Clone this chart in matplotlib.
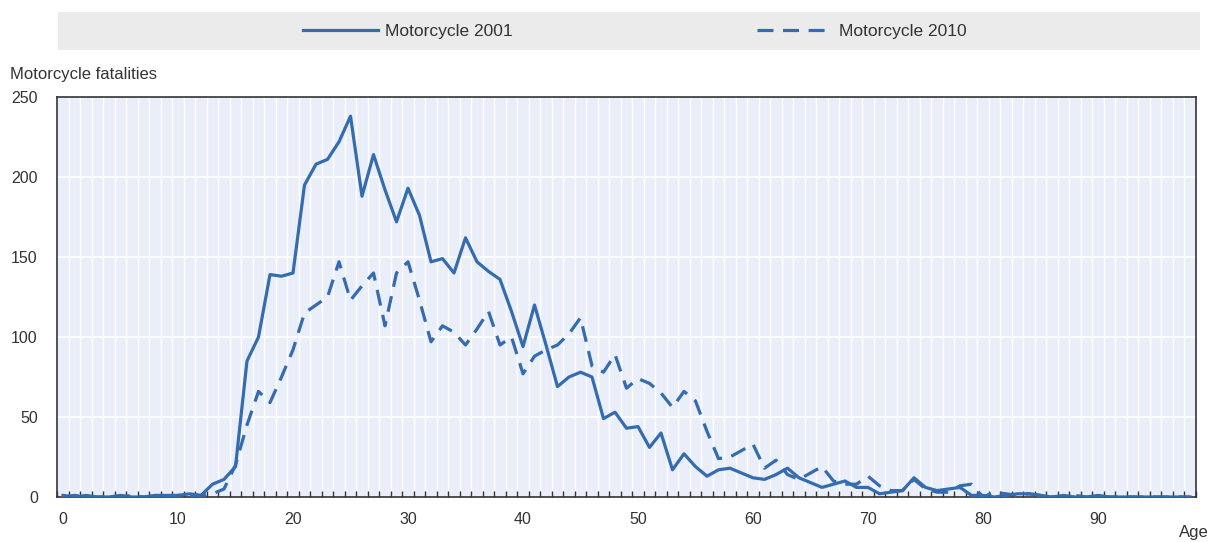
import numpy as np
import matplotlib
matplotlib.use("Agg")
import matplotlib.pyplot as plt
from matplotlib.lines import Line2D
from matplotlib.patches import Rectangle


# ==========================================
# DATA
# ==========================================

ages = list(range(0, 99))

fatalities_2001 = [
    1, 0, 1, 0, 0, 1, 0, 0, 1, 1,          # 0-9
    1, 2, 1, 8, 11, 19, 85, 100, 139, 138,  # 10-19
    140, 195, 208, 211, 222, 238, 188, 214, 192, 172,  # 20-29
    193, 176, 147, 149, 140, 162, 147, 141, 136, 116,  # 30-39
    94, 120, 95, 69, 75, 78, 75, 49, 53, 43,  # 40-49
    44, 31, 40, 17, 27, 19, 13, 17, 18, 15,  # 50-59
    12, 11, 14, 18, 12, 9, 6, 8, 10, 6,      # 60-69
    6, 2, 3, 4, 12, 6, 4, 5, 6, 1,           # 70-79
    1, 0, 1, 2, 2, 1, 0, 1, 0, 0,            # 80-89
    1, 0, 0, 0, 0, 0, 0, 0, 0,               # 90-98
]

fatalities_2010 = [
    0, 1, 0, 0, 0, 0, 1, 0, 0, 0,            # 0-9
    1, 1, 1, 2, 5, 20, 45, 66, 59, 75,       # 10-19
    92, 115, 120, 125, 147, 123, 132, 140, 107, 140,  # 20-29
    147, 123, 97, 107, 103, 95, 105, 116, 95, 100,  # 30-39
    77, 88, 92, 95, 102, 112, 82, 78, 89, 68,  # 40-49
    74, 71, 65, 56, 66, 60, 41, 24, 25, 29,  # 50-59
    33, 18, 23, 14, 11, 15, 19, 10, 8, 8,    # 60-69
    13, 7, 4, 4, 11, 5, 3, 3, 7, 8,          # 70-79
    0, 3, 2, 1, 2, 1, 0, 0, 1, 0,            # 80-89
    0, 0, 0, 0, 0, 0, 0, 0, 0,               # 90-98
]

series_labels = ["Motorcycle 2001", "Motorcycle 2010"]
x_ticks = [0, 10, 20, 30, 40, 50, 60, 70, 80, 90]
y_ticks = [0, 50, 100, 150, 200, 250]


# ==========================================
# STYLE
# ==========================================

plt.rcParams["font.family"] = ["Liberation Sans Narrow", "Liberation Sans", "DejaVu Sans"]

LINE_COLOR = "#356bb0"
BG_COLOR = "#e9eef8"
LEGEND_BG = "#ebebeb"
TEXT_COLOR = "#333333"
DASH = (0, (5, 3))


# ==========================================
# PLOT
# ==========================================

fig = plt.figure(figsize=(12.12, 5.42), dpi=100)
ax = fig.add_axes([57.25 / 1212, 1 - 497 / 542, (1195.75 - 57.25) / 1212, 400 / 542])
ax.set_facecolor(BG_COLOR)

# white separators between age categories + horizontal grid
for b in np.arange(-0.5, 99, 1):
    ax.axvline(b, color="white", lw=1.0, zorder=1)
for yv in y_ticks[1:-1]:
    ax.axhline(yv, color="white", lw=1.2, zorder=1)

ax.plot(ages, fatalities_2001, color=LINE_COLOR, lw=2.3, zorder=3)
ax.plot(ages, fatalities_2010, color=LINE_COLOR, lw=2.3, zorder=3, linestyle=DASH)

ax.set_xlim(-0.5, 98.5)
ax.set_ylim(0, 250)

ax.set_xticks(x_ticks)
ax.set_xticklabels([str(v) for v in x_ticks], fontsize=11.5, color=TEXT_COLOR)
ax.set_xticks(np.arange(-0.5, 99, 1), minor=True)
ax.tick_params(axis="x", which="major", length=0, pad=11)
ax.tick_params(axis="x", which="minor", direction="in", length=4, width=1, color="#333333")

ax.set_yticks(y_ticks)
ax.set_yticklabels([str(v) for v in y_ticks], fontsize=11.5, color=TEXT_COLOR)
ax.tick_params(axis="y", which="major", length=0, pad=14)

for side in ["left", "right", "top", "bottom"]:
    ax.spines[side].set_color("#333333")
    ax.spines[side].set_linewidth(1.2)

fig.text(10 / 1212, 1 - 75 / 542, "Motorcycle fatalities", fontsize=12,
         color=TEXT_COLOR, ha="left", va="center")
fig.text(1209 / 1212, 1 - 533 / 542, "Age", fontsize=12,
         color=TEXT_COLOR, ha="right", va="center")

# legend band
fig.patches.append(Rectangle((58 / 1212, 1 - 50 / 542), (1200 - 58) / 1212, 38 / 542,
                             transform=fig.transFigure, facecolor=LEGEND_BG,
                             edgecolor="none", zorder=0))
handles = [
    Line2D([], [], color=LINE_COLOR, lw=2.3),
    Line2D([], [], color=LINE_COLOR, lw=2.3, linestyle=DASH),
]
for h, lab, x0 in zip(handles, series_labels, [303, 757]):
    fig.legend([h], [lab], loc="center left", bbox_to_anchor=(x0 / 1212, 1 - 31 / 542),
               frameon=False, fontsize=12.5, handlelength=4.3, borderpad=0,
               borderaxespad=0, handletextpad=0.4, labelcolor=TEXT_COLOR)

fig.savefig("out.png", dpi=100)
plt.close(fig)
